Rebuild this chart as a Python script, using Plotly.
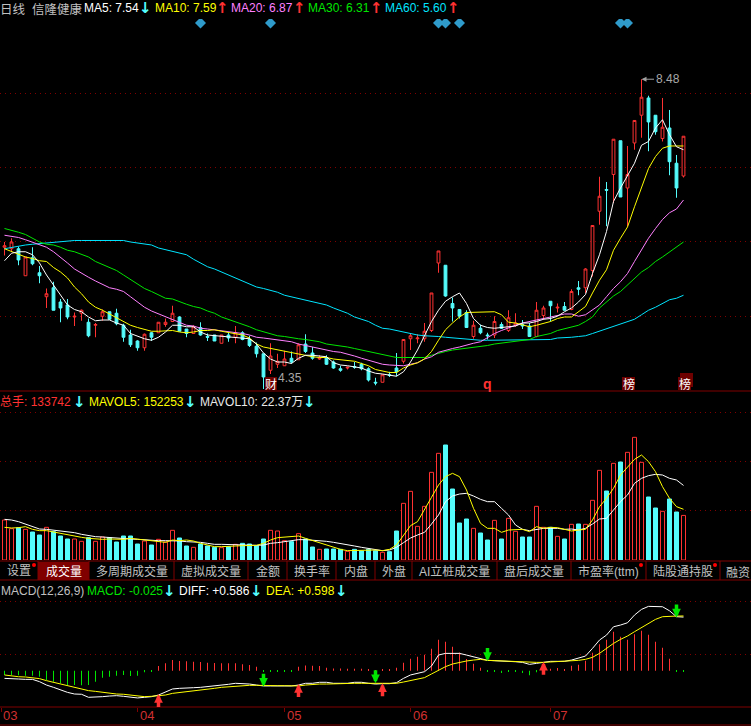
#!/usr/bin/env python3

import plotly.graph_objects as go
from plotly.subplots import make_subplots

W = 751
H = 726

RED = '#FF3232'
CYAN = '#54FCFC'
GREEN = '#00E600'
YELLOW = '#FFFF00'
PINK = '#FF80FF'
SKY = '#00E5FF'
DARKRED = '#800000'
GREY = '#C0C0C0'
LATIN = 'Liberation Sans'
CJK = 'Noto Sans CJK SC'

candle_open = [
    6.24, 6.22, 6.22, 5.86, 6.10, 5.90, 5.58, 5.70, 5.51, 5.47,
    5.31, 5.36, 5.24, 5.20, 5.32, 5.38, 5.36, 5.20, 5.07, 4.99,
    4.90, 5.10, 5.10, 5.21, 5.25, 5.31, 5.15, 5.09, 5.17, 5.05,
    5.07, 4.96, 5.07, 5.04, 5.10, 5.01, 4.92, 4.82, 4.60, 4.68,
    4.66, 4.76, 4.74, 4.95, 4.83, 4.75, 4.77, 4.71, 4.62, 4.63,
    4.65, 4.68, 4.62, 4.44, 4.44, 4.54, 4.63, 4.72, 5.02, 5.02,
    5.02, 5.13, 6.03, 6.00, 5.49, 5.41, 5.37, 5.05, 5.16, 5.07,
    5.07, 5.21, 5.13, 5.20, 5.21, 5.19, 5.05, 5.33, 5.52, 5.43,
    5.45, 5.41, 5.70, 5.70, 5.93, 6.72, 7.01, 7.21, 7.66, 7.03,
    7.63, 8.00, 8.23, 8.00, 7.69, 7.83, 7.36, 7.19]
candle_close = [
    6.26, 6.31, 6.07, 6.11, 6.02, 5.86, 5.62, 5.40, 5.43, 5.31,
    5.32, 5.40, 5.06, 5.21, 5.38, 5.28, 5.22, 5.04, 4.94, 4.90,
    5.08, 5.04, 5.24, 5.24, 5.36, 5.12, 5.09, 5.18, 5.07, 5.04,
    4.99, 5.07, 5.03, 5.10, 5.01, 4.93, 4.82, 4.51, 4.79, 4.72,
    4.75, 4.71, 4.94, 4.85, 4.76, 4.76, 4.68, 4.63, 4.60, 4.64,
    4.64, 4.62, 4.47, 4.43, 4.54, 4.53, 4.58, 5.01, 5.06, 5.03,
    5.12, 5.63, 6.19, 5.59, 5.43, 5.32, 5.17, 5.20, 5.10, 5.06,
    5.25, 5.16, 5.30, 5.23, 5.19, 5.05, 5.40, 5.43, 5.46, 5.44,
    5.40, 5.65, 5.68, 5.95, 6.53, 6.92, 7.00, 7.68, 6.91, 7.21,
    7.93, 8.24, 7.91, 7.78, 7.84, 7.38, 7.03, 7.72]
candle_high = [
    6.31, 6.36, 6.25, 6.11, 6.24, 5.99, 5.69, 5.78, 5.55, 5.55,
    5.37, 5.41, 5.29, 5.23, 5.41, 5.38, 5.42, 5.22, 5.14, 5.00,
    5.09, 5.11, 5.24, 5.29, 5.46, 5.32, 5.15, 5.20, 5.24, 5.09,
    5.07, 5.07, 5.10, 5.19, 5.12, 5.06, 4.97, 4.82, 4.96, 4.82,
    4.86, 4.85, 4.96, 5.08, 4.91, 4.80, 4.80, 4.73, 4.66, 4.65,
    4.71, 4.70, 4.64, 4.50, 4.54, 4.58, 4.83, 5.01, 5.09, 5.08,
    5.23, 5.63, 6.19, 6.00, 5.57, 5.41, 5.40, 5.26, 5.21, 5.10,
    5.32, 5.24, 5.40, 5.36, 5.27, 5.23, 5.51, 5.46, 5.52, 5.49,
    5.51, 5.68, 5.79, 5.96, 6.53, 7.18, 7.11, 7.68, 7.66, 7.59,
    7.93, 8.48, 8.26, 8.00, 8.23, 8.07, 7.47, 7.72]
candle_low = [
    6.13, 6.18, 6.00, 5.86, 6.00, 5.76, 5.43, 5.40, 5.24, 5.28,
    5.19, 5.26, 5.04, 5.04, 5.26, 5.27, 5.20, 4.98, 4.91, 4.86,
    4.86, 4.99, 5.10, 5.18, 5.25, 5.12, 5.04, 5.09, 5.06, 4.99,
    4.99, 4.96, 4.98, 4.96, 5.00, 4.91, 4.77, 4.35, 4.55, 4.63,
    4.66, 4.69, 4.74, 4.83, 4.74, 4.74, 4.67, 4.62, 4.58, 4.61,
    4.62, 4.60, 4.45, 4.40, 4.44, 4.51, 4.52, 4.69, 4.87, 4.96,
    4.98, 5.11, 5.90, 5.58, 5.25, 5.29, 5.17, 5.02, 5.08, 5.01,
    5.03, 5.15, 5.11, 5.18, 5.15, 5.05, 5.04, 5.27, 5.25, 5.37,
    5.40, 5.40, 5.60, 5.63, 5.85, 6.54, 6.52, 6.83, 6.91, 6.52,
    7.54, 7.70, 7.52, 7.74, 7.65, 7.20, 6.90, 7.17]

ma5 = [
    6.06, 6.16, 6.18, 6.18, 6.14, 6.03, 5.87, 5.74, 5.60, 5.47,
    5.41, 5.38, 5.31, 5.26, 5.27, 5.27, 5.23, 5.20, 5.09, 5.05,
    5.02, 5.00, 5.04, 5.11, 5.20, 5.20, 5.18, 5.18, 5.11, 5.07,
    5.06, 5.05, 5.04, 5.04, 5.03, 5.02, 4.95, 4.83, 4.75, 4.71,
    4.71, 4.69, 4.76, 4.80, 4.80, 4.79, 4.78, 4.70, 4.67, 4.66,
    4.65, 4.63, 4.59, 4.56, 4.55, 4.53, 4.52, 4.58, 4.71, 4.87,
    5.05, 5.25, 5.40, 5.52, 5.58, 5.63, 5.49, 5.29, 5.20, 5.17,
    5.16, 5.17, 5.18, 5.19, 5.23, 5.23, 5.25, 5.28, 5.29, 5.32,
    5.38, 5.43, 5.51, 5.61, 5.89, 6.14, 6.45, 6.85, 7.03, 7.20,
    7.36, 7.60, 7.65, 7.83, 7.94, 7.74, 7.58, 7.54]
ma10 = [
    6.22, 6.18, 6.14, 6.11, 6.09, 6.06, 6.05, 5.97, 5.91, 5.83,
    5.71, 5.62, 5.51, 5.44, 5.40, 5.35, 5.30, 5.26, 5.20, 5.17,
    5.15, 5.12, 5.12, 5.13, 5.13, 5.11, 5.10, 5.11, 5.13, 5.13,
    5.14, 5.12, 5.10, 5.09, 5.07, 5.03, 4.95, 4.91, 4.89, 4.87,
    4.86, 4.83, 4.81, 4.80, 4.78, 4.77, 4.77, 4.75, 4.74, 4.73,
    4.72, 4.69, 4.66, 4.61, 4.59, 4.57, 4.57, 4.63, 4.67, 4.70,
    4.75, 4.85, 5.00, 5.14, 5.23, 5.31, 5.37, 5.37, 5.37, 5.37,
    5.38, 5.34, 5.24, 5.23, 5.20, 5.18, 5.20, 5.22, 5.25, 5.29,
    5.31, 5.31, 5.38, 5.45, 5.63, 5.80, 5.94, 6.20, 6.36, 6.51,
    6.78, 7.05, 7.29, 7.45, 7.56, 7.59, 7.59, 7.59]
ma20 = [
    6.40, 6.39, 6.37, 6.34, 6.31, 6.28, 6.24, 6.18, 6.11, 6.03,
    5.95, 5.89, 5.84, 5.79, 5.75, 5.70, 5.68, 5.65, 5.58, 5.51,
    5.44, 5.39, 5.35, 5.31, 5.27, 5.23, 5.20, 5.19, 5.16, 5.15,
    5.14, 5.13, 5.12, 5.11, 5.09, 5.07, 5.04, 5.03, 5.02, 5.00,
    4.99, 4.98, 4.95, 4.93, 4.91, 4.88, 4.86, 4.85, 4.84, 4.82,
    4.79, 4.76, 4.73, 4.71, 4.68, 4.67, 4.66, 4.66, 4.68, 4.70,
    4.75, 4.78, 4.84, 4.87, 4.89, 4.91, 4.94, 4.96, 4.98, 5.04,
    5.09, 5.13, 5.17, 5.20, 5.23, 5.25, 5.28, 5.29, 5.31, 5.34,
    5.35, 5.35, 5.32, 5.34, 5.40, 5.47, 5.58, 5.69, 5.78, 5.89,
    6.05, 6.20, 6.36, 6.49, 6.61, 6.70, 6.75, 6.87]
ma30 = [
    6.49, 6.47, 6.44, 6.41, 6.36, 6.31, 6.28, 6.27, 6.24, 6.20,
    6.18, 6.14, 6.11, 6.05, 6.01, 5.96, 5.93, 5.87, 5.81, 5.75,
    5.69, 5.65, 5.60, 5.56, 5.55, 5.51, 5.48, 5.45, 5.43, 5.39,
    5.36, 5.31, 5.28, 5.25, 5.22, 5.18, 5.14, 5.11, 5.08, 5.06,
    5.05, 5.03, 5.02, 5.01, 5.00, 4.98, 4.95, 4.94, 4.92, 4.91,
    4.89, 4.87, 4.85, 4.83, 4.80, 4.79, 4.77, 4.77, 4.77, 4.77,
    4.77, 4.80, 4.83, 4.85, 4.87, 4.88, 4.89, 4.90, 4.92, 4.93,
    4.95, 4.96, 4.97, 4.98, 5.00, 5.01, 5.05, 5.07, 5.09, 5.13,
    5.15, 5.17, 5.20, 5.25, 5.31, 5.43, 5.51, 5.59, 5.65, 5.74,
    5.83, 5.91, 5.97, 6.05, 6.11, 6.18, 6.25, 6.31]
ma60 = [
    6.22, 6.24, 6.26, 6.27, 6.28, 6.29, 6.30, 6.31, 6.32, 6.33,
    6.33, 6.33, 6.33, 6.33, 6.33, 6.33, 6.33, 6.33, 6.31, 6.30,
    6.29, 6.27, 6.23, 6.21, 6.19, 6.17, 6.14, 6.08, 6.03, 5.98,
    5.95, 5.91, 5.87, 5.83, 5.80, 5.75, 5.71, 5.69, 5.67, 5.64,
    5.60, 5.58, 5.56, 5.54, 5.52, 5.49, 5.47, 5.43, 5.40, 5.36,
    5.31, 5.28, 5.25, 5.20, 5.16, 5.15, 5.13, 5.11, 5.08, 5.07,
    5.06, 5.06, 5.05, 5.04, 5.03, 5.02, 5.02, 5.01, 5.00, 5.00,
    5.00, 5.00, 5.00, 5.00, 5.00, 5.00, 5.00, 5.00, 5.01, 5.03,
    5.03, 5.04, 5.05, 5.06, 5.09, 5.12, 5.15, 5.18, 5.21, 5.24,
    5.28, 5.34, 5.40, 5.44, 5.49, 5.54, 5.56, 5.60]

volume = [
    120000, 94000, 97000, 92000, 84000, 75000, 98000, 85000, 72000, 63000,
    63000, 56000, 67000, 56000, 69000, 67000, 54000, 72000, 72000, 48000,
    57000, 45000, 62000, 54000, 89000, 66000, 42000, 38000, 48000, 42000,
    38000, 37000, 40000, 47000, 50000, 48000, 43000, 63000, 89000, 87000,
    58000, 55000, 79000, 63000, 39000, 32000, 33000, 33000, 32000, 26000,
    32000, 27000, 32000, 28000, 23000, 25000, 87000, 170000, 206000, 101000,
    161000, 263000, 320000, 345000, 213000, 111000, 123000, 95000, 81000, 60000,
    119000, 63000, 125000, 86000, 69000, 69000, 161000, 98000, 98000, 71000,
    63000, 107000, 108000, 107000, 179000, 269000, 207000, 290000, 294000, 323000,
    368000, 293000, 189000, 156000, 146000, 183000, 144000, 133742]
mavol5 = [
    98000, 96000, 97000, 100000, 92000, 88000, 88000, 84000, 80000, 76000,
    70000, 68000, 65000, 63000, 62000, 63000, 62000, 62000, 65000, 63000,
    60000, 58000, 55000, 53000, 60000, 58000, 60000, 57000, 50000, 45000,
    40000, 40000, 40000, 42000, 43000, 44000, 44000, 50000, 60000, 67000,
    69000, 69000, 72000, 65000, 58000, 52000, 45000, 38000, 32000, 28000,
    29000, 29000, 29000, 30000, 28000, 32000, 45000, 75000, 103000, 115000,
    150000, 188000, 225000, 250000, 260000, 250000, 210000, 155000, 110000, 95000,
    95000, 83000, 90000, 92000, 92000, 85000, 100000, 95000, 98000, 97000,
    93000, 87000, 90000, 92000, 120000, 160000, 185000, 215000, 255000, 280000,
    302000, 315000, 295000, 265000, 220000, 185000, 160000, 152253]
mavol10 = [
    122000, 120000, 115000, 107000, 100000, 93000, 92000, 90000, 87000, 85000,
    82000, 77000, 73000, 70000, 69000, 67000, 65000, 63000, 63000, 62000,
    60000, 59000, 58000, 58000, 58000, 57000, 55000, 55000, 53000, 50000,
    47000, 47000, 46000, 45000, 45000, 45000, 44000, 45000, 50000, 52000,
    55000, 58000, 61000, 61000, 60000, 58000, 56000, 53000, 50000, 45000,
    42000, 38000, 35000, 31000, 28000, 30000, 38000, 52000, 66000, 75000,
    83000, 108000, 135000, 175000, 192000, 198000, 200000, 192000, 182000, 175000,
    175000, 155000, 135000, 105000, 92000, 88000, 92000, 95000, 95000, 95000,
    92000, 93000, 90000, 95000, 108000, 123000, 125000, 150000, 175000, 195000,
    230000, 245000, 253000, 257000, 255000, 245000, 240000, 223700]

macd_hist = [
    -.047, -.047, -.051, -.055, -.055, -.066, -.102, -.120, -.138, -.157,
    -.157, -.160, -.157, -.120, -.076, -.066, -.055, -.047, -.058, -.055,
    -.018, -.004, .051, .080, .116, .106, .102, .098, .095, .087,
    .084, .080, .080, .080, .069, .062, .044, -.011, -.007, -.007,
    -.007, -.004, .044, .058, .055, .051, .033, .025, .025, .022,
    .022, .022, .015, .007, .011, .018, .033, .087, .131, .153,
    .175, .240, .339, .317, .262, .200, .127, .076, .033, -.011,
    -.011, -.025, -.015, -.015, -.025, -.051, -.018, .011, .022, .029,
    .018, .055, .066, .109, .197, .288, .339, .426, .371, .339,
    .397, .437, .393, .317, .251, .131, -.011, -.011]
macd_diff = [
    -.084, -.091, -.091, -.095, -.095, -.120, -.157, -.182, -.211, -.237,
    -.255, -.258, -.291, -.291, -.284, -.277, -.273, -.280, -.291, -.298,
    -.291, -.284, -.266, -.229, -.200, -.193, -.193, -.186, -.182, -.175,
    -.167, -.164, -.149, -.138, -.138, -.146, -.157, -.167, -.167, -.167,
    -.167, -.167, -.157, -.138, -.138, -.127, -.127, -.138, -.138, -.138,
    -.127, -.127, -.138, -.146, -.142, -.142, -.131, -.084, -.047, -.029,
    -.011, .051, .171, .189, .189, .189, .171, .153, .127, .113,
    .109, .106, .106, .098, .091, .069, .080, .095, .102, .102,
    .102, .116, .135, .160, .244, .335, .389, .480, .499, .524,
    .608, .670, .703, .703, .699, .655, .590, .586]
macd_dea = [
    -.047, -.058, -.066, -.069, -.076, -.087, -.109, -.127, -.146, -.160,
    -.182, -.200, -.218, -.226, -.237, -.248, -.255, -.258, -.266, -.273,
    -.284, -.280, -.273, -.266, -.248, -.240, -.229, -.222, -.211, -.200,
    -.193, -.182, -.175, -.167, -.160, -.160, -.160, -.164, -.164, -.164,
    -.164, -.167, -.167, -.157, -.149, -.146, -.146, -.142, -.142, -.138,
    -.138, -.138, -.138, -.138, -.142, -.138, -.138, -.124, -.109, -.095,
    -.076, -.036, .007, .044, .073, .091, .106, .116, .124, .113,
    .109, .106, .106, .102, .098, .091, .091, .091, .095, .102,
    .102, .106, .113, .124, .146, .189, .244, .298, .342, .379,
    .426, .470, .517, .561, .590, .597, .597, .598]

# signals over the MACD lines
buy_index = [22, 42, 54, 77]
buy_value = [-.255, -.146, -.138, .098]
sell_index = [37, 53, 69, 96]
sell_value = [-.175, -.138, .106, .582]

# blue diamonds along the top of the price pane
diamond_index = [28, 38, 62, 63, 65, 88, 89]
diamond_price = [9.23, 9.23, 9.23, 9.23, 9.23, 9.23, 9.23]

month_ticks = [-0.5, 19, 40, 58, 78]
month_labels = ['03', '04', '05', '06', '07']

tab_labels = ['设置', '成交量', '多周期成交量', '虚拟成交量', '金额', '换手率', '内盘', '外盘',
              'AI立桩成交量', '盘后成交量', '市盈率(ttm)', '陆股通持股', '融资']
tab_edges = [0, 38, 89, 174, 248, 287, 336, 375, 412, 497, 571, 646, 720, 790]
tab_dots = [34, 641, 715]

index = list(range(len(candle_open)))


def fy(px):
    return 1 - px / H


def fx(px):
    return px / W


def text_at(label, x, y, color, size=12, family=LATIN, **kw):
    fig.add_annotation(text=label, x=fx(x), y=fy(y), xref='paper', yref='paper',
                       xanchor=kw.pop('xanchor', 'left'), yanchor='middle', showarrow=False,
                       borderpad=0, borderwidth=0,
                       font=dict(color=color, size=size, family=family), **kw)


def rect(x0, y0, x1, y1, color):
    fig.add_shape(type='rect', xref='paper', yref='paper', layer='above',
                  x0=fx(x0), x1=fx(x1), y0=fy(y0), y1=fy(y1),
                  fillcolor=color, line=dict(width=0))


def hline(y, x0=0, x1=W):
    fig.add_shape(type='line', xref='paper', yref='paper', x0=fx(x0), x1=fx(x1), y0=fy(y), y1=fy(y),
                  line=dict(color=DARKRED, width=1))


def vline(x, y0, y1):
    fig.add_shape(type='line', xref='paper', yref='paper', x0=fx(x), x1=fx(x), y0=fy(y0), y1=fy(y1),
                  line=dict(color=DARKRED, width=1))


def add_line(values, color, row):
    fig.add_trace(go.Scatter(x=index, y=values, mode='lines', line=dict(color=color, width=1)),
                  row=row, col=1)


fig = make_subplots(rows=3, cols=1, shared_xaxes=False)

# price pane
fig.add_trace(go.Candlestick(
    x=index, open=candle_open, high=candle_high, low=candle_low, close=candle_close,
    increasing=dict(line=dict(color=RED, width=1), fillcolor='#000000'),
    decreasing=dict(line=dict(color=CYAN, width=1), fillcolor=CYAN),
    whiskerwidth=0), row=1, col=1)
for values, color in [(ma60, SKY), (ma30, GREEN), (ma20, PINK), (ma10, YELLOW), (ma5, '#FFFFFF')]:
    add_line(values, color, 1)
fig.add_trace(go.Scatter(x=diamond_index, y=diamond_price, mode='markers',
                         marker=dict(symbol='diamond', size=8.5, color='#2F9BCB')), row=1, col=1)

# volume pane
fig.add_trace(go.Bar(
    x=index, y=volume, width=4 / 7,
    marker=dict(color=['#000000' if c >= o else CYAN for o, c in zip(candle_open, candle_close)],
                line=dict(color=[RED if c >= o else CYAN for o, c in zip(candle_open, candle_close)], width=1))),
    row=2, col=1)
add_line(mavol10, '#FFFFFF', 2)
add_line(mavol5, YELLOW, 2)

# MACD pane
fig.add_trace(go.Bar(x=index, y=macd_hist, width=1 / 7,
                     marker=dict(color=[RED if v >= 0 else GREEN for v in macd_hist], line=dict(width=0))),
              row=3, col=1)
add_line(macd_diff, '#FFFFFF', 3)
add_line(macd_dea, YELLOW, 3)

for i, v in zip(buy_index, buy_value):
    fig.add_annotation(x=i, y=v, xref='x3', yref='y3', text=' ', showarrow=True, ax=0, ay=15,
                       font=dict(size=1), arrowhead=2, arrowsize=0.5, arrowwidth=3.5, arrowcolor=RED)
for i, v in zip(sell_index, sell_value):
    fig.add_annotation(x=i, y=v, xref='x3', yref='y3', text=' ', showarrow=True, ax=0, ay=-15,
                       font=dict(size=1), arrowhead=2, arrowsize=0.5, arrowwidth=3.5, arrowcolor=GREEN)

grid = dict(showgrid=True, gridcolor=DARKRED, griddash='1px,4px', gridwidth=1, zeroline=False,
            showticklabels=False, ticks='', showline=False, fixedrange=True, automargin=False)
x_range = [-4.5 / 7, (W - 4.5) / 7]
for n in (1, 2):
    fig.update_xaxes(range=x_range, showgrid=False, zeroline=False, showticklabels=False, ticks='',
                     showline=False, automargin=False, rangeslider=dict(visible=False), row=n, col=1)
fig.update_xaxes(range=x_range, showgrid=False, zeroline=False, showline=False, automargin=False,
                 tickmode='array', tickvals=month_ticks, showticklabels=False,
                 ticks='outside', ticklen=4, tickcolor=DARKRED, tickwidth=1, row=3, col=1)

fig.update_yaxes(grid, domain=[fy(392), fy(19)], range=[4.31, 9.283],
                 tickmode='array', tickvals=[5.32, 6.31, 7.30, 8.29, 9.27], row=1, col=1)
fig.update_yaxes(grid, domain=[fy(560), fy(405)], range=[0, 465000],
                 tickmode='array', tickvals=[149000, 295000, 442000], row=2, col=1)
fig.update_yaxes(grid, domain=[fy(707), fy(590)], range=[-.397, .882],
                 tickmode='array', tickvals=[.179, .758], row=3, col=1)
fig.update_xaxes(domain=[0, 1])

fig.update_layout(
    width=W, height=H, showlegend=False, barmode='overlay', boxgap=1 - 4 / 7,
    paper_bgcolor='#000000', plot_bgcolor='#000000',
    margin=go.layout.Margin(l=0, r=0, b=0, t=0, pad=0, autoexpand=False),
    hovermode=False,
)

# month labels just right of their ticks
for tick, label in zip(month_ticks, month_labels):
    fig.add_annotation(x=tick, y=fy(715.5), xref='x3', yref='paper', text=label, showarrow=False,
                       xanchor='left', yanchor='middle', xshift=1, borderpad=0,
                       font=dict(color='#D03030', size=13, family=LATIN))

# header row of the price pane
text_at('日线', 0, 9, GREY, 12.5, CJK)
text_at('信隆健康', 32, 9, GREY, 12.5, CJK)
for label, x, color in [('MA5: 7.54', 84, '#FFFFFF'), ('MA10: 7.59', 155, YELLOW), ('MA20: 6.87', 231, PINK),
                        ('MA30: 6.31', 308, GREEN), ('MA60: 5.60', 385, SKY)]:
    text_at(label, x, 8, color)
for sign, x, color in [('↓', 139, CYAN), ('↑', 216, RED), ('↑', 293, RED), ('↑', 370, RED), ('↑', 447, RED)]:
    text_at('<b>' + sign + '</b>', x, 8, color, 15, 'DejaVu Sans')

# header row of the volume pane
text_at('总手: 133742', 0, 402, RED, 12, LATIN + ', ' + CJK)
text_at('MAVOL5: 152253', 89, 402, YELLOW)
text_at('MAVOL10: 22.37万', 200, 402, '#E8E8E8', 12, LATIN + ', ' + CJK)
for x in [73, 184, 303]:
    text_at('<b>↓</b>', x, 402, CYAN, 15, 'DejaVu Sans')

# header row of the MACD pane
text_at('MACD(12,26,9)', 1, 591, GREY)
text_at('MACD: -0.025', 87, 591, GREEN)
text_at('DIFF: +0.586', 179, 591, '#FFFFFF')
text_at('DEA: +0.598', 266, 591, YELLOW)
for x in [163, 250, 335]:
    text_at('<b>↓</b>', x, 591, CYAN, 15, 'DejaVu Sans')

# price pane notes
fig.add_annotation(x=91, y=8.48, xref='x', yref='y', text='8.48', showarrow=True, ax=26, ay=0,
                   arrowhead=2, arrowsize=1, arrowwidth=1, arrowcolor='#A0A0A0',
                   font=dict(color='#A8A8A8', size=12, family=LATIN))
text_at('4.35', 278, 378, '#A8A8A8')
rect(265, 377, 277, 390, '#6E0000')
rect(622, 377, 635, 390, '#6E0000')
rect(680, 373, 693, 387, '#6E0000')
rect(678, 377, 691, 390, '#6E0000')
text_at('<b>q</b>', 483, 384, RED, 14, LATIN)
text_at('财', 271, 383.5, '#FFFFFF', 12, CJK, xanchor='center')
text_at('榜', 628.5, 383.5, '#FFFFFF', 12, CJK, xanchor='center')
text_at('榜', 684.5, 383.5, '#FFFFFF', 12, CJK, xanchor='center')

# pane borders
for y in [391, 561, 580, 707, 725]:
    hline(y)

# tab bar
rect(tab_edges[1], 562, tab_edges[2], 580, DARKRED)
for k, label in enumerate(tab_labels):
    left, right = tab_edges[k], tab_edges[k + 1]
    vline(right, 561, 580)
    if k == len(tab_labels) - 1:
        text_at(label, left + 6, 571, GREY, 12, CJK)
    else:
        text_at(label, (left + right) / 2, 571, '#FFFFFF' if k == 1 else GREY, 12, LATIN + ', ' + CJK, xanchor='center')
for x in tab_dots:
    fig.add_shape(type='circle', xref='paper', yref='paper', layer='above',
                  x0=fx(x - 2), x1=fx(x + 2), y0=fy(563), y1=fy(567),
                  fillcolor='#FF0000', line=dict(width=0))

fig.write_html("out.html", config=dict(displayModeBar=False),
               post_script="document.body.style.margin='0';document.body.style.background='#000';")
